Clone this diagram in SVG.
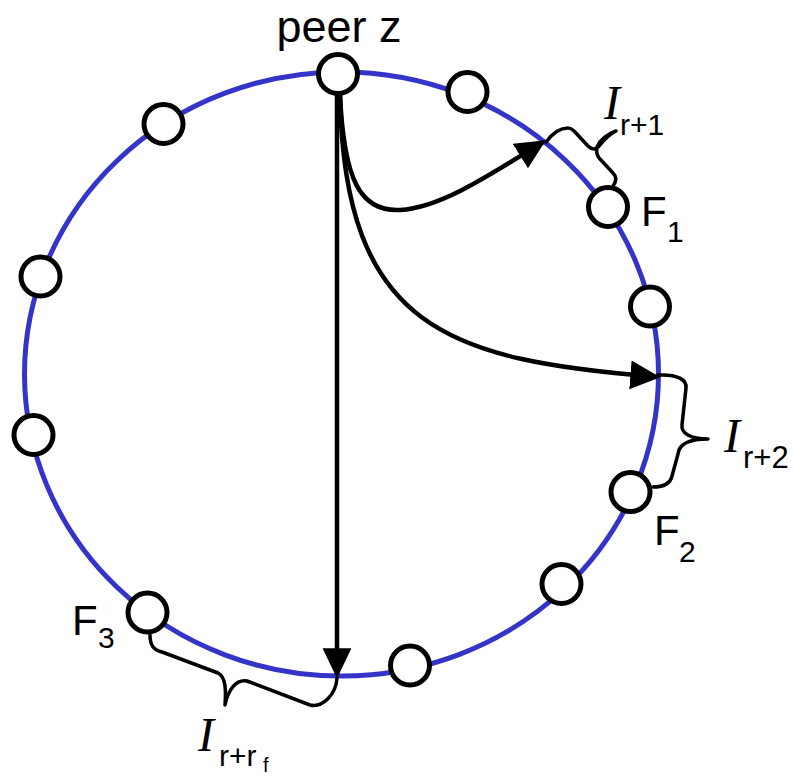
<svg xmlns="http://www.w3.org/2000/svg" width="793" height="778" viewBox="0 0 793 778">
<style>
.ring{fill:none;stroke:#3434c8;stroke-width:5}
.node{fill:#fff;stroke:#000;stroke-width:5}
.edge{fill:none;stroke:#000;stroke-width:4.5;stroke-linecap:butt}
.brace{fill:none;stroke:#000;stroke-width:3.5;stroke-linejoin:round;stroke-linecap:round}
.lbl{font-family:"Liberation Sans",Arial,sans-serif;fill:#000}
.it{font-family:"Liberation Serif","Times New Roman",serif;font-style:italic;fill:#000}
</style>
<defs>
<marker id="ah" markerUnits="userSpaceOnUse" markerWidth="30" markerHeight="30" viewBox="0 0 27 27" refX="24" refY="13" orient="auto">
<path d="M0,0 L27,13 L0,26 z" fill="#000"/>
</marker>
</defs>
<rect width="793" height="778" fill="#fff"/>
<ellipse class="ring" cx="341.5" cy="374" rx="317" ry="302"/>
<g id="connectors">
<path class="edge" d="M337,95 L337,675" marker-end="url(#ah)"/>
<path class="edge" d="M340,95 C344,180 360,212 400,210 C440,208 490,175 543,142" marker-end="url(#ah)"/>
<path class="edge" d="M340,95 C344,330 450,360 657,377" marker-end="url(#ah)"/>
</g>
<g id="intervals">
<path class="brace" d="M546,142 C552,134 560,128 568,128 C571,128 572,129 574,131 L588,146 C592,150 596,150 600,145 C604,140 610,134 616,131 C608,134 600,140 597,147 C596,152 597,156 600,159 L613,173 C617,177 616,182 613,186"/>
<path class="brace" d="M658,375 C678,374 687,380 686,388 L682,425 C681,433 690,439 708,439 C690,439 679,444 678,454 L672,476 C670,485 662,487 653,487"/>
<path class="brace" d="M150,635 C150,646 154,650 162,652 L218,673 C226,677 226,690 225,705 C228,690 236,679 247,681 L310,705 C322,708 336,695 337,678"/>
<g id="label-Ir1"><text class="it" x="604" y="119" font-size="48">I</text><text class="lbl" x="620" y="135" font-size="30">r+1</text></g>
<g id="label-Ir2"><text class="it" x="724" y="452" font-size="48">I</text><text class="lbl" x="743" y="468" font-size="31">r+2</text></g>
<g id="label-Irf"><text class="it" x="198" y="751" font-size="48">I</text><text class="lbl" x="219" y="766" font-size="30">r+r</text><text class="lbl" x="263" y="772" font-size="20">f</text></g>
</g>
<g id="peer-z"><circle class="node" cx="338" cy="74" r="19.5"/><text class="lbl" x="339" y="42" font-size="45" text-anchor="middle">peer z</text></g>
<g id="n2"><circle class="node" cx="467.5" cy="92" r="19.5"/></g>
<g id="n3"><circle class="node" cx="163.5" cy="124" r="19.5"/></g>
<g id="F1"><circle class="node" cx="608" cy="207" r="19.5"/><text class="lbl" x="641" y="226" font-size="42">F</text><text class="lbl" x="667" y="242" font-size="30">1</text></g>
<g id="n5"><circle class="node" cx="40.5" cy="276.5" r="19.5"/></g>
<g id="n6"><circle class="node" cx="650" cy="306.5" r="19.5"/></g>
<g id="n7"><circle class="node" cx="33.5" cy="435" r="19.5"/></g>
<g id="F2"><circle class="node" cx="630.5" cy="492" r="19.5"/><text class="lbl" x="654" y="545" font-size="42">F</text><text class="lbl" x="679" y="562" font-size="30">2</text></g>
<g id="n9"><circle class="node" cx="561.5" cy="584" r="19.5"/></g>
<g id="F3"><circle class="node" cx="147.5" cy="612.5" r="19.5"/><text class="lbl" x="72" y="635" font-size="42">F</text><text class="lbl" x="98" y="648" font-size="30">3</text></g>
<g id="n11"><circle class="node" cx="410" cy="665.5" r="19.5"/></g>
</svg>
